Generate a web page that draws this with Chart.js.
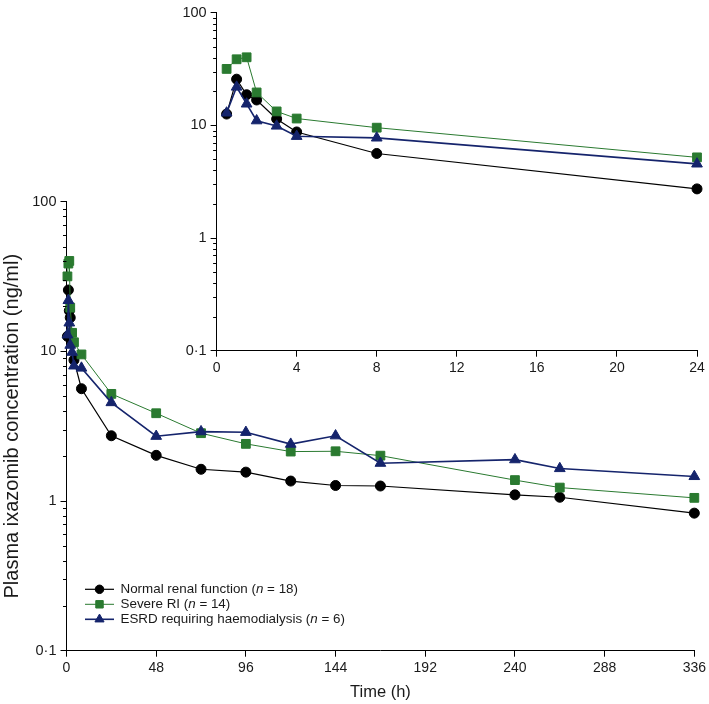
<!DOCTYPE html>
<html><head><meta charset="utf-8">
<script src="https://cdn.jsdelivr.net/npm/chart.js@4/dist/chart.umd.min.js"></script>
<style>
html,body{margin:0;padding:0;background:#fff;}
#wrap{position:relative;width:709px;height:704px;background:#fff;}
canvas{position:absolute;left:0;top:0;}
</style></head><body>
<div id="wrap"><canvas id="main" width="709" height="704"></canvas><canvas id="inset" width="709" height="704"></canvas></div>
<script>
// ---- data ----
const timesH = [0.5, 1, 1.5, 2, 3, 4, 8, 24, 48, 72, 96, 120, 144, 168, 240, 264, 336];
const normalRenal = [12.6, 25.7, 18.7, 16.8, 11.4, 8.74, 5.63, 2.73, 2.02, 1.63, 1.56, 1.36, 1.27, 1.26, 1.10, 1.06, 0.83];
const severeRI    = [31.7, 38.6, 40.2, 19.6, 13.3, 11.5, 9.54, 5.2, 3.86, 2.84, 2.41, 2.14, 2.15, 2.01, 1.38, 1.23, 1.05];
const esrdHD      = [12.9, 21.9, 15.5, 11.0, 9.87, 8.0, 7.74, 4.55, 2.71, 2.91, 2.88, 2.40, 2.73, 1.79, 1.89, 1.65, 1.46];
const seriesNames = ['Normal renal function', 'Severe RI', 'ESRD requiring haemodialysis'];
const seriesN = [18, 14, 6];
const mainXTicks = [0, 48, 96, 144, 192, 240, 288, 336];
const insetXTicks = [0, 4, 8, 12, 16, 20, 24];
const insetMaxTime = 24;
const yTickValues = [0.1,0.2,0.3,0.4,0.5,0.6,0.7,0.8,0.9,1,2,3,4,5,6,7,8,9,10,20,30,40,50,60,70,80,90,100];
const yMajorTicks = [0.1, 1, 10, 100];
const yMajorLabels = ['0·1', '1', '10', '100'];
const xTitle = 'Time (h)';
const yTitle = 'Plasma ixazomib concentration (ng/ml)';

// ---- styling ----
const FONT = '"Liberation Sans", Arial, Helvetica, sans-serif';
const TXT = '#1a1a1a';
const styles = [
  {color:'#000000', pointStyle:'circle', pointRadius:5, borderWidth:1.2},
  {color:'#2a7a30', pointStyle:'rect', pointRadius:6.2, borderWidth:1},
  {color:'#15246c', pointStyle:'triangle', pointRadius:6.2, borderWidth:1.6}
];
const allSeries = [normalRenal, severeRI, esrdHD];

function makeDatasets(maxT){
  return allSeries.map((vals, i) => ({
    label: seriesNames[i],
    data: timesH.map((t, j) => ({x: t, y: vals[j]})).filter(p => p.x <= maxT),
    borderColor: styles[i].color,
    backgroundColor: styles[i].color,
    pointBackgroundColor: styles[i].color,
    pointBorderColor: styles[i].color,
    pointStyle: styles[i].pointStyle,
    pointRadius: styles[i].pointRadius,
    pointHoverRadius: styles[i].pointRadius,
    pointBorderWidth: 1,
    borderWidth: styles[i].borderWidth,
    tension: 0,
    clip: false,
    order: 3 - i
  }));
}

const minorTicks = {
  id: 'minorTicks',
  afterDraw(chart){
    const s = chart.scales.y, ctx = chart.ctx;
    ctx.save();
    ctx.strokeStyle = '#000'; ctx.lineWidth = 1;
    s.ticks.forEach(t => {
      if (!yMajorTicks.includes(t.value)) {
        const y = Math.round(s.getPixelForValue(t.value)) + 0.5;
        ctx.beginPath(); ctx.moveTo(s.right - 3.5, y); ctx.lineTo(s.right, y); ctx.stroke();
      }
    });
    ctx.restore();
  }
};

const customLegend = {
  id: 'customLegend',
  afterDraw(chart){
    const ctx = chart.ctx, a = chart.chartArea;
    ctx.save();
    chart.data.datasets.forEach((ds, i) => {
      const y = a.bottom - 61.4 + i * 15;
      const x0 = a.left + 18.5, x1 = a.left + 47.5, xm = (x0 + x1) / 2;
      ctx.strokeStyle = ds.borderColor; ctx.fillStyle = ds.borderColor;
      ctx.lineWidth = ds.borderWidth;
      ctx.beginPath(); ctx.moveTo(x0, y); ctx.lineTo(x1, y); ctx.stroke();
      ctx.lineWidth = 1;
      Chart.helpers.drawPoint(ctx, {pointStyle: ds.pointStyle, radius: ds.pointRadius * 0.85, borderWidth: 1, rotation: 0}, xm, y);
      ctx.fillStyle = TXT; ctx.textBaseline = 'middle'; ctx.textAlign = 'left';
      let x = a.left + 54;
      const part1 = seriesNames[i] + ' (';
      ctx.font = '13.4px ' + FONT; ctx.fillText(part1, x, y); x += ctx.measureText(part1).width;
      ctx.font = 'italic 13.4px ' + FONT; ctx.fillText('n', x, y); x += ctx.measureText('n').width;
      ctx.font = '13.4px ' + FONT; ctx.fillText(' = ' + seriesN[i] + ')', x, y);
    });
    ctx.restore();
  }
};

function makeScales(xMin, xMax, xTicks, yWidth, xHeight, withTitles){
  const gridCommon = {display: true, drawOnChartArea: false, drawTicks: true, tickLength: 6, tickWidth: 1};
  return {
    x: {
      type: 'linear', min: xMin, max: xMax,
      afterBuildTicks: s => { s.ticks = xTicks.map(v => ({value: v})); },
      afterFit: s => { s.height = xHeight; },
      grid: Object.assign({}, gridCommon, {tickColor: '#000'}),
      border: {display: true, color: '#000', width: 1},
      ticks: {autoSkip: false, maxRotation: 0, color: TXT, padding: 3, font: {family: FONT, size: 14}},
      title: {display: withTitles, text: xTitle, color: TXT, font: {family: FONT, size: 16.5}, padding: {top: 0, bottom: 2}}
    },
    y: {
      type: 'logarithmic', min: 0.1, max: 100,
      afterBuildTicks: s => { s.ticks = yTickValues.map(v => ({value: v, major: yMajorTicks.includes(v)})); },
      afterFit: s => { s.width = yWidth; },
      grid: Object.assign({}, gridCommon, {tickColor: c => (c.tick && yMajorTicks.includes(c.tick.value)) ? '#000' : 'rgba(0,0,0,0)'}),
      border: {display: true, color: '#000', width: 1},
      ticks: {autoSkip: false, color: TXT, padding: 4, font: {family: FONT, size: 14.5},
        callback: v => { const k = yMajorTicks.indexOf(v); return k >= 0 ? yMajorLabels[k] : ''; }},
      title: {display: withTitles, text: yTitle, color: TXT, font: {family: FONT, size: 20}, padding: {top: 0, bottom: 2}}
    }
  };
}

const common = {
  responsive: false, animation: false, devicePixelRatio: 1,
  plugins: {legend: {display: false}, tooltip: {enabled: false}},
  events: []
};

new Chart(document.getElementById('main'), {
  type: 'line',
  data: {datasets: makeDatasets(Infinity)},
  options: Object.assign({}, common, {
    layout: {padding: {top: 201.7, right: 11.5, bottom: 0, left: 0}},
    scales: makeScales(0, 336, mainXTicks, 66.5, 53.3, true)
  }),
  plugins: [minorTicks, customLegend]
});

new Chart(document.getElementById('inset'), {
  type: 'line',
  data: {datasets: makeDatasets(insetMaxTime)},
  options: Object.assign({}, common, {
    layout: {padding: {top: 10, right: 12, bottom: 323.3, left: 0}},
    scales: makeScales(0, 24, insetXTicks, 216.6, 30, false)
  }),
  plugins: [minorTicks]
});
</script>
</body></html>
